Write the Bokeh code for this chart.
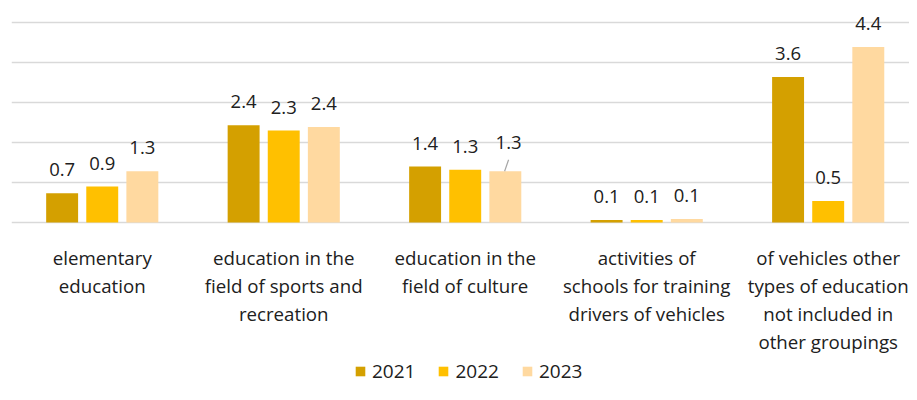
import numpy as np
from bokeh.plotting import figure
from bokeh.models import ColumnDataSource, LabelSet, Legend, LegendItem, FixedTicker, Range1d
from bokeh.core.properties import value
from bokeh.embed import file_html
from bokeh.resources import INLINE

categories = [
    "elementary\neducation",
    "education in the\nfield of sports and\nrecreation",
    "education in the\nfield of culture",
    "activities of\nschools for training\ndrivers of vehicles",
    "of vehicles other\ntypes of education\nnot included in\nother groupings",
]
years = ["2021", "2022", "2023"]
v2021 = [0.73, 2.43, 1.40, 0.06, 3.64]
v2022 = [0.90, 2.30, 1.32, 0.06, 0.54]
v2023 = [1.28, 2.39, 1.28, 0.09, 4.39]
colors = ["#D4A000", "#FFC000", "#FFD9A0"]

series = [v2021, v2022, v2023]
offsets = [-0.221, 0.0, 0.221]
bar_w = 0.176
FONT = "Open Sans"
TXT = "#202020"

xc = np.arange(len(categories)) + 0.5

p = figure(width=909, height=384, x_range=Range1d(0, 4.948), y_range=Range1d(-4.05, 5.55),
           output_backend="svg", toolbar_location=None,
           min_border_left=11, min_border_right=0, min_border_top=0, min_border_bottom=0)
p.outline_line_color = None
p.background_fill_color = "white"
p.xaxis.visible = False
p.yaxis.visible = False
p.ygrid.ticker = FixedTicker(ticks=[0, 1, 2, 3, 4, 5])
p.ygrid.grid_line_color = "#D9D9D9"
p.ygrid.grid_line_width = 1.5
p.xgrid.grid_line_color = None

items = []
for yr, vals, off, col in zip(years, series, offsets, colors):
    src = ColumnDataSource(dict(x=xc + off, val=vals, lab=[f"{v:.1f}" for v in vals]))
    r = p.vbar(x="x", top="val", width=bar_w, source=src, fill_color=col, line_color=None)
    items.append(LegendItem(label=yr, renderers=[r]))
    normal = [i for i in range(len(vals)) if not (yr == "2023" and i == 2)]
    lab_src = ColumnDataSource(dict(x=[xc[i] + off for i in normal],
                                    val=[vals[i] for i in normal],
                                    lab=[f"{vals[i]:.1f}" for i in normal]))
    p.add_layout(LabelSet(x="x", y="val", text="lab", source=lab_src, text_align="center",
                          text_baseline="alphabetic", y_offset=17, text_font=value(FONT),
                          text_font_size="18.5px", text_color=TXT))
    if yr == "2023":
        i = 2
        sp = ColumnDataSource(dict(x0=[xc[i] + off - 0.004], x1=[xc[i] + off + 0.018],
                                   y0=[vals[i]], y1=[vals[i] + 0.29],
                                   val=[vals[i]], lab=[f"{vals[i]:.1f}"]))
        p.segment(x0="x0", y0="y0", x1="x1", y1="y1", source=sp,
                  line_color="#A6A6A6", line_width=1.2)
        p.add_layout(LabelSet(x="x1", y="val", text="lab", source=sp, text_align="center",
                              text_baseline="alphabetic", y_offset=22, text_font=value(FONT),
                              text_font_size="18.5px", text_color=TXT))

# category labels below the baseline, one line at a time
split = [c.split("\n") for c in categories]
for k in range(max(len(s) for s in split)):
    idx = [i for i, s in enumerate(split) if len(s) > k]
    ls = ColumnDataSource(dict(x=[xc[i] for i in idx], y=[0] * len(idx),
                               t=[split[i][k] for i in idx]))
    p.add_layout(LabelSet(x="x", y="y", text="t", source=ls, text_align="center",
                          text_baseline="alphabetic", y_offset=-(42 + 28.3 * k),
                          text_font=value(FONT), text_font_size="18.7px", text_color=TXT))

legend = Legend(items=items, orientation="horizontal", location=(343, 0),
                label_text_font=FONT, label_text_font_size="19px",
                label_text_color=TXT, glyph_width=12, glyph_height=12,
                label_height=20, label_standoff=6, spacing=22, border_line_color=None,
                background_fill_alpha=0, margin=0, padding=0)
p.add_layout(legend)

open("out.html", "w").write(file_html(p, INLINE))
